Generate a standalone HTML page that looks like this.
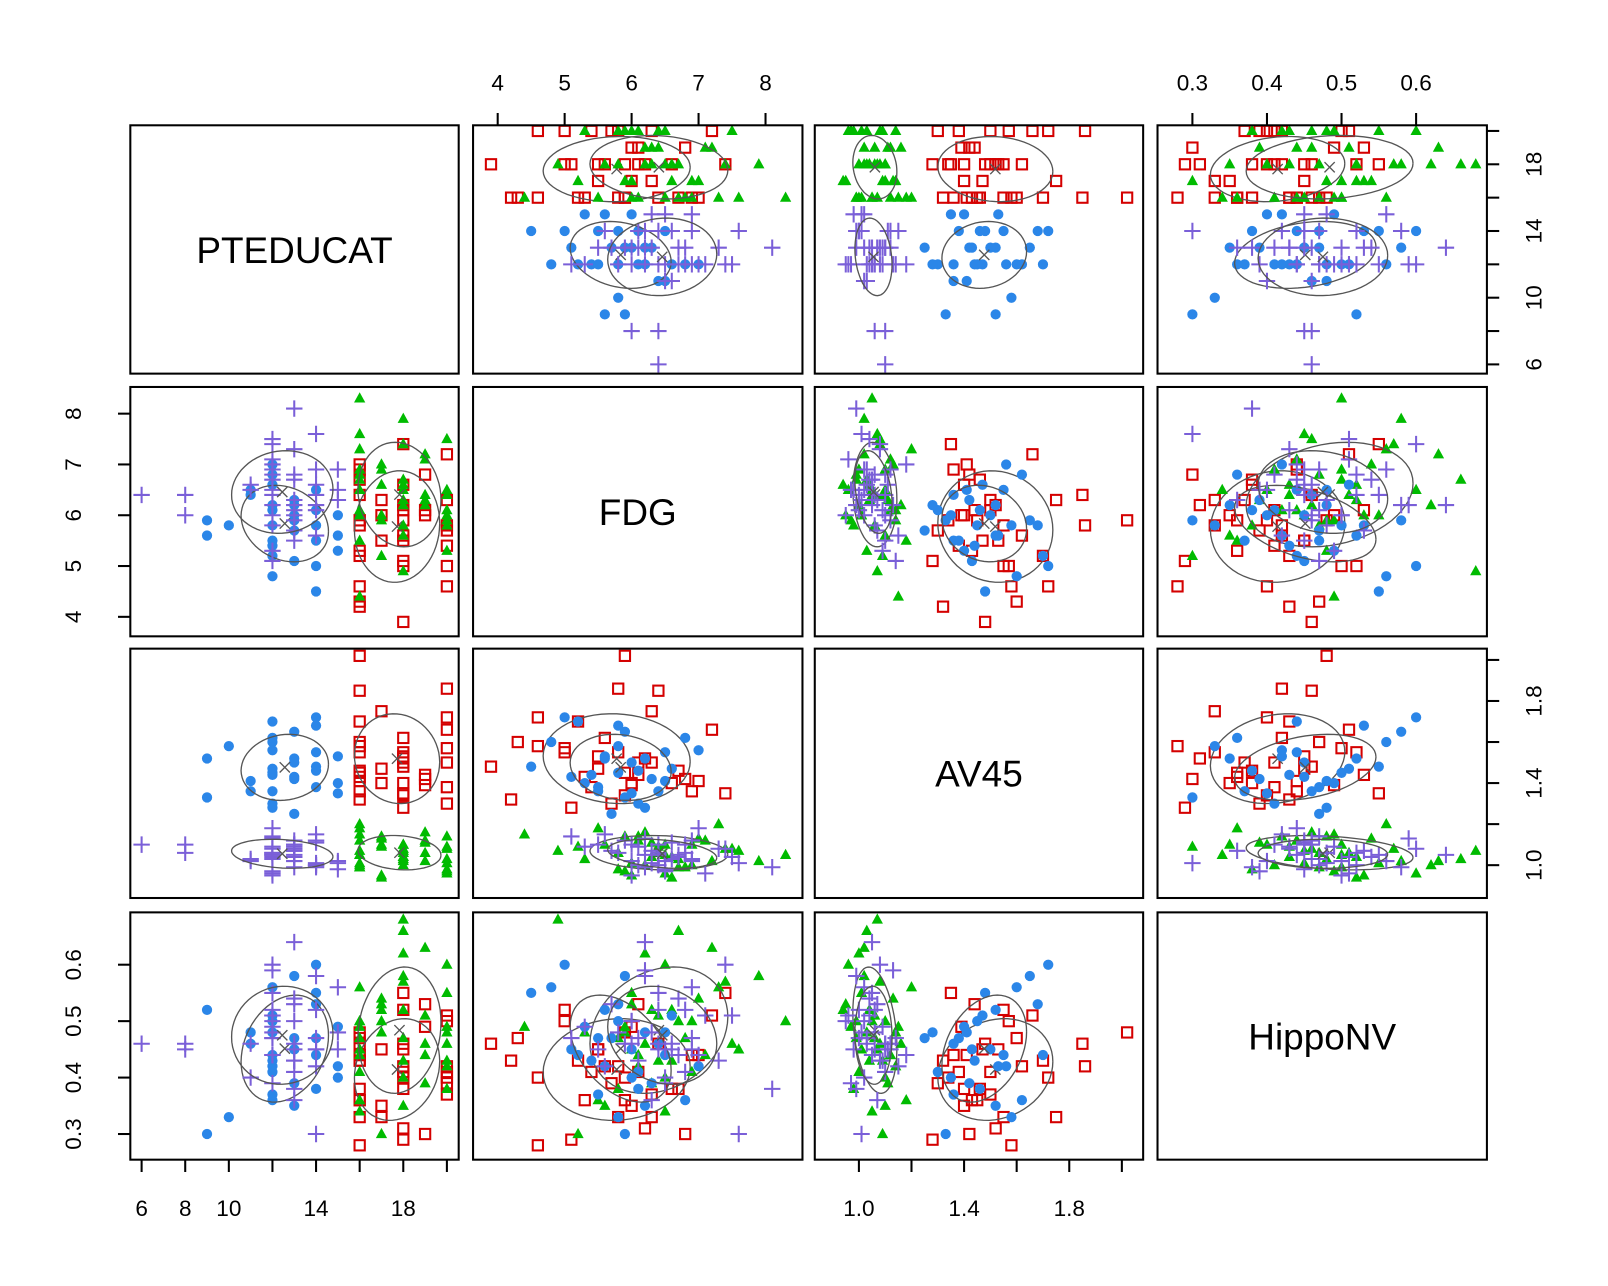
<!DOCTYPE html>
<html><head><meta charset="utf-8"><style>
body{margin:0;background:#fff}
svg{display:block;font-family:"Liberation Sans",sans-serif}
</style></head><body>
<svg id="c" width="1608" height="1286" viewBox="0 0 1567 1253"></svg>
<script>
const varNames=["PTEDUCAT","FDG","AV45","HippoNV"];
const redEduc=[16,18,20,16,18,19,16,20,18,16,17,18,16,20,18,16,19,18,16,20,17,16,18,20,16,18,16,19,20,18,16,17,18,20,16];
const redFdg=[5.9,6.2,5.4,4.3,5.0,6.8,6.4,5.7,3.9,5.2,6.0,7.4,4.6,6.3,5.6,5.9,6.1,5.1,6.9,4.6,5.5,5.8,6.6,7.2,4.2,6.1,5.3,6.0,5.8,5.5,6.7,6.3,5.9,5.0,7.0];
const redAv45=[1.45,1.52,1.38,1.60,1.55,1.42,1.85,1.30,1.48,1.70,1.40,1.35,1.58,1.50,1.62,2.02,1.44,1.28,1.36,1.72,1.47,1.55,1.40,1.66,1.32,1.50,1.43,1.39,1.86,1.53,1.46,1.75,1.34,1.57,1.41];
const redHippo=[0.36,0.31,0.41,0.47,0.52,0.30,0.46,0.39,0.46,0.43,0.35,0.55,0.28,0.37,0.42,0.48,0.53,0.29,0.44,0.40,0.45,0.33,0.38,0.51,0.43,0.41,0.36,0.49,0.42,0.45,0.38,0.33,0.40,0.50,0.44];
const greenEduc=[16,17,18,19,20,16,18,20,17,16,19,18,20,16,17,18,16,20,19,18,16,17,20,18,16,19,16,18,20,17,16,18,19,20,16,17,18,16,20,18];
const greenFdg=[6.5,6.9,6.2,7.1,5.8,4.4,6.7,7.5,6.0,5.5,6.4,7.9,6.1,6.8,5.2,6.6,7.3,5.9,6.3,4.9,6.0,7.0,6.5,5.6,8.3,6.2,6.9,7.4,5.3,6.6,6.1,5.8,7.2,6.4,6.7,5.9,6.3,7.6,6.0,6.5];
const greenAv45=[1.05,1.10,1.00,1.12,0.98,1.15,1.03,1.08,0.95,1.18,1.06,1.02,1.14,0.99,1.09,1.04,1.20,0.97,1.11,1.07,1.01,1.13,0.96,1.10,1.05,1.16,1.00,1.08,1.03,0.94,1.12,1.06,1.02,1.09,0.99,1.14,1.04,1.07,1.01,1.10];
const greenHippo=[0.34,0.50,0.62,0.44,0.38,0.49,0.66,0.46,0.53,0.36,0.51,0.58,0.42,0.47,0.30,0.43,0.56,0.49,0.39,0.68,0.45,0.54,0.60,0.35,0.50,0.46,0.41,0.57,0.48,0.52,0.44,0.47,0.63,0.43,0.50,0.48,0.52,0.45,0.55,0.40];
const blueEduc=[12,13,14,12,15,9,10,11,12,13,14,12,13,12,14,15,12,13,9,12,14,13,12,11,12,14,13,12,15,14];
const blueFdg=[5.8,6.2,5.5,4.8,6.0,5.6,5.8,6.4,5.2,6.3,4.5,6.1,5.9,5.4,6.5,5.3,6.8,5.7,5.9,6.6,5.0,6.0,5.5,6.5,7.0,5.8,5.1,6.2,5.6,6.1];
const blueAv45=[1.45,1.52,1.38,1.60,1.35,1.52,1.58,1.36,1.70,1.42,1.48,1.30,1.65,1.44,1.55,1.40,1.62,1.25,1.33,1.47,1.72,1.50,1.36,1.41,1.56,1.68,1.43,1.28,1.53,1.46];
const blueHippo=[0.50,0.35,0.47,0.56,0.40,0.52,0.33,0.46,0.44,0.39,0.55,0.41,0.58,0.43,0.44,0.49,0.36,0.47,0.30,0.51,0.60,0.45,0.37,0.48,0.42,0.53,0.45,0.48,0.42,0.38];
const purpleEduc=[12,13,14,12,13,15,12,14,13,12,6,8,8,11,12,13,14,12,13,12,14,15,12,13,12,14,13,12,11,13,12,14,12,13,15,12,13,14,12,13];
const purpleFdg=[6.4,6.8,6.1,7.4,5.9,6.5,6.9,5.6,6.3,7.1,6.4,6.0,6.4,6.5,5.3,6.7,7.6,6.2,8.1,5.8,6.6,6.9,6.0,7.3,5.1,6.4,6.2,7.0,6.6,5.7,6.5,6.9,7.5,6.1,6.3,6.8,5.5,6.2,6.7,6.0];
const purpleAv45=[1.05,1.10,1.00,1.08,1.12,0.98,1.03,1.15,1.07,0.96,1.10,1.10,1.06,1.02,1.09,1.04,1.01,1.13,0.99,1.06,1.11,1.02,0.95,1.08,1.14,1.00,1.05,1.18,1.03,1.07,0.97,1.12,1.04,1.09,1.01,1.06,1.10,0.99,1.05,1.02];
const purpleHippo=[0.55,0.41,0.47,0.60,0.46,0.45,0.47,0.42,0.36,0.51,0.46,0.46,0.45,0.40,0.49,0.54,0.30,0.59,0.38,0.48,0.45,0.56,0.50,0.43,0.47,0.52,0.64,0.44,0.46,0.53,0.39,0.45,0.51,0.43,0.48,0.52,0.45,0.58,0.44,0.50];
const educTicks=[6,8,10,12,14,16,18,20], educLabels=["6","","10","","14","","18",""], educLabelsX=["6","8","10","","14","","18",""];
const fdgTicks=[4,5,6,7,8], fdgLabels=["4","5","6","7","8"];
const av45Ticks=[1.0,1.2,1.4,1.6,1.8,2.0], av45Labels=["1.0","","1.4","","1.8",""];
const hippoTicks=[0.3,0.4,0.5,0.6], hippoLabels=["0.3","0.4","0.5","0.6"];

const groups=[
 {name:"red",col:"#d40000",shape:"square",d:[redEduc,redFdg,redAv45,redHippo]},
 {name:"green",col:"#00bb00",shape:"tri",d:[greenEduc,greenFdg,greenAv45,greenHippo]},
 {name:"blue",col:"#2b86e8",shape:"dot",d:[blueEduc,blueFdg,blueAv45,blueHippo]},
 {name:"purple",col:"#7a5fd8",shape:"plus",d:[purpleEduc,purpleFdg,purpleAv45,purpleHippo]}
];
const colX=[[127,447],[461,782],[794,1114],[1128,1449]];
const rowY=[[122,364],[377,620],[632,875],[889,1130]];
function lin(a,pa,b,pb){return v=>pa+(v-a)*(pb-pa)/(b-a);}
const xMap=[lin(6,138,18,393),lin(4,485,8,746),lin(1.0,837,1.8,1042),lin(0.3,1162,0.6,1380)];
const yMap=[lin(6,355,18,160),lin(4,601,8,403),lin(1.0,843,1.8,683),lin(0.3,1105,0.6,940)];
const NS="http://www.w3.org/2000/svg";
const svg=document.getElementById("c");
function mk(tag,at,parent){const e=document.createElementNS(NS,tag);for(const k in at)e.setAttribute(k,at[k]);(parent||svg).appendChild(e);return e;}
const defs=mk("defs",{});
for(let i=0;i<4;i++)for(let j=0;j<4;j++){const cp=mk("clipPath",{id:"cp"+i+j},defs);mk("rect",{x:colX[j][0],y:rowY[i][0],width:colX[j][1]-colX[j][0],height:rowY[i][1]-rowY[i][0]},cp);}
function mean(a){return a.reduce((s,v)=>s+v,0)/a.length;}
for(let i=0;i<4;i++){for(let j=0;j<4;j++){
 const [x0,x1]=colX[j],[y0,y1]=rowY[i];
 const panel=mk("g",{});
 
 
 if(i===j){
  const t=mk("text",{x:(x0+x1)/2,y:(y0+y1)/2+13,"text-anchor":"middle","font-size":36,fill:"#000"},panel);
  t.textContent=varNames[i];
  
  
 } else {
  const pg=mk("g",{"clip-path":"url(#cp"+i+j+")"},panel);
  groups.forEach(g=>{
   const xs=g.d[j],ys=g.d[i];
   const gg=mk("g",{},pg);
   
   
   for(let k=0;k<xs.length;k++){
    const px=xMap[j](xs[k]),py=yMap[i](ys[k]);let m;
    if(g.shape==="square")m=mk("rect",{x:px-5,y:py-5,width:10,height:10,fill:"none",stroke:g.col,"stroke-width":2},gg);
    else if(g.shape==="tri")m=mk("polygon",{points:`${px},${py-6} ${px-5.5},${py+4} ${px+5.5},${py+4}`,fill:g.col},gg);
    else if(g.shape==="dot")m=mk("circle",{cx:px,cy:py,r:5,fill:g.col},gg);
    else m=mk("path",{d:`M${px-8},${py}H${px+8}M${px},${py-8}V${py+8}`,stroke:g.col,"stroke-width":2},gg);
    
    
   }
   const mx=mean(xs),my=mean(ys);
   const sx=Math.sqrt(mean(xs.map(v=>(v-mx)**2))),sy=Math.sqrt(mean(ys.map(v=>(v-my)**2)));
   let r=mean(xs.map((v,k)=>(v-mx)*(ys[k]-my)))/(sx*sy);r=Math.max(-0.99,Math.min(0.99,r));
   let d="";const s=1.3;
   for(let t=0;t<=60;t++){const a=t/60*2*Math.PI;const vx=mx+s*sx*Math.cos(a);const vy=my+s*sy*(r*Math.cos(a)+Math.sqrt(1-r*r)*Math.sin(a));d+=(t?"L":"M")+xMap[j](vx).toFixed(1)+","+yMap[i](vy).toFixed(1);}
   const el=mk("path",{d:d,fill:"none",stroke:"#555","stroke-width":1.3},pg);
   
   
   const cx=xMap[j](mx),cy=yMap[i](my);
   mk("path",{d:`M${cx-5},${cy-5}L${cx+5},${cy+5}M${cx+5},${cy-5}L${cx-5},${cy+5}`,stroke:"#555","stroke-width":1.3},pg);
  });
 }
 const fr=mk("rect",{x:x0,y:y0,width:x1-x0,height:y1-y0,fill:"none",stroke:"#000","stroke-width":2},panel);
 
 
}}
const tickSets=[[educTicks,educLabels],[fdgTicks,fdgLabels],[av45Ticks,av45Labels],[hippoTicks,hippoLabels]];
for(let j=0;j<4;j++){
 const ax=mk("g",{});
 
 
 const ticks=tickSets[j][0],labs=(j===0?educLabelsX:tickSets[j][1]);
 const bottom=(j%2===0),yE=bottom?1130:122;
 ticks.forEach((v,k)=>{const px=xMap[j](v);
  mk("line",{x1:px,x2:px,y1:yE,y2:bottom?yE+12:yE-12,stroke:"#000","stroke-width":2},ax);
  if(labs[k]){const t=mk("text",{x:px,y:bottom?1185:88,"text-anchor":"middle","font-size":22,fill:"#000"},ax);t.textContent=labs[k];}
 });
}
for(let i=0;i<4;i++){
 const ax=mk("g",{});
 
 
 const ticks=tickSets[i][0],labs=tickSets[i][1];
 const right=(i%2===0),xE=right?1449:127;
 ticks.forEach((v,k)=>{const py=yMap[i](v);
  mk("line",{x1:xE,x2:right?xE+12:xE-12,y1:py,y2:py,stroke:"#000","stroke-width":2},ax);
  if(labs[k]){const lx=right?1502:79;const t=mk("text",{x:lx,y:py,"text-anchor":"middle","font-size":22,fill:"#000",transform:`rotate(-90 ${lx} ${py})`},ax);t.textContent=labs[k];}
 });
}
</script>
</body></html>
